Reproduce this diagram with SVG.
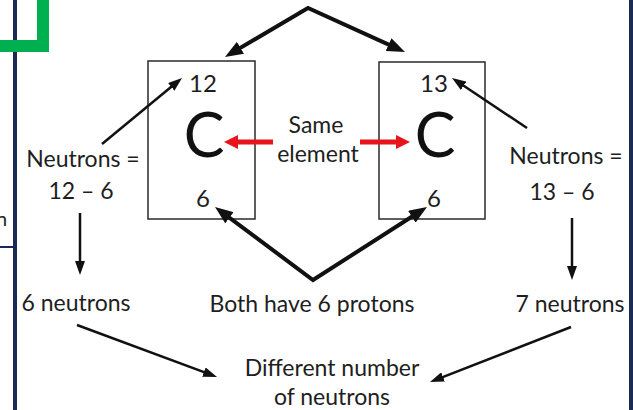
<svg xmlns="http://www.w3.org/2000/svg" width="633" height="410" viewBox="0 0 633 410">
  <style>
    .t { font-family: Lato, "Liberation Sans", sans-serif; fill: #1e1e1e; text-anchor: middle; }
    .lbl { font-size: 23px; }
    .num { font-size: 24px; }
    .big { font-size: 61px; fill: #111; }
    .box { fill: #fff; stroke: #2a2a2a; stroke-width: 1.5; }
    .c { fill: none; stroke: #111; }
    .thick { stroke-width: 4; stroke-linejoin: miter; }
    .thin { stroke-width: 2.5; }
    .red { fill: none; stroke: #e8141b; stroke-width: 5; }
  </style>
  <defs>
    <marker id="ah" markerUnits="userSpaceOnUse" markerWidth="18" markerHeight="14" refX="11" refY="7" orient="auto-start-reverse">
      <path d="M0,0 L18,7 L0,14 z" fill="#111"/>
    </marker>
    <marker id="as" markerUnits="userSpaceOnUse" markerWidth="14" markerHeight="10" refX="8" refY="5" orient="auto">
      <path d="M0,0 L14,5 L0,10 z" fill="#111"/>
    </marker>
    <marker id="ar" markerUnits="userSpaceOnUse" markerWidth="14" markerHeight="14" refX="8" refY="7" orient="auto">
      <path d="M0,0 L14,7 L0,14 z" fill="#e8141b"/>
    </marker>
  </defs>
  <rect width="633" height="410" fill="#fff"/>

  <g id="frame">
    <rect x="13" y="0" width="4" height="410" fill="#1b2a55"/>
    <rect x="629" y="0" width="4" height="410" fill="#1b2a55"/>
    <rect x="0" y="246" width="14" height="2" fill="#1b2a55"/>
    <text x="-4" y="226" font-family="Lato, 'Liberation Sans', sans-serif" font-size="20" fill="#262626">n</text>
    <path d="M0,46 H43 V0" fill="none" stroke="#00b050" stroke-width="12"/>
  </g>

  <g id="box12">
    <rect class="box" x="148" y="61" width="107" height="158"/>
    <text class="t num" x="203" y="92">12</text>
    <text class="t big" x="204" y="157">C</text>
    <text class="t num" x="203" y="207">6</text>
  </g>

  <g id="box13">
    <rect class="box" x="379" y="62" width="106" height="157"/>
    <text class="t num" x="434" y="92">13</text>
    <text class="t big" x="435" y="157">C</text>
    <text class="t num" x="434" y="207">6</text>
  </g>

  <g id="same-element">
    <text class="t lbl" x="316" y="133">Same</text>
    <text class="t lbl" x="318" y="162">element</text>
  </g>

  <g id="neutrons-left">
    <text class="t lbl" x="83" y="167">Neutrons =</text>
    <text class="t lbl" x="81" y="199">12 – 6</text>
  </g>

  <g id="neutrons-right">
    <text class="t lbl" x="566" y="164">Neutrons =</text>
    <text class="t lbl" x="562" y="200">13 – 6</text>
  </g>

  <g id="six-neutrons">
    <text class="t lbl" x="76" y="311">6 neutrons</text>
  </g>
  <g id="protons">
    <text class="t lbl" x="312" y="312">Both have 6 protons</text>
  </g>
  <g id="seven-neutrons">
    <text class="t lbl" x="570" y="312">7 neutrons</text>
  </g>
  <g id="different">
    <text class="t lbl" x="332" y="376">Different number</text>
    <text class="t lbl" x="332" y="405">of neutrons</text>
  </g>

  <g id="connectors">
    <path class="c thick" d="M231,53.4 L308,8 L398.6,49.1" marker-start="url(#ah)" marker-end="url(#ah)"/>
    <path class="c thick" d="M220.6,211.2 L313,280 L421.1,210.8" marker-start="url(#ah)" marker-end="url(#ah)"/>
    <path class="c thin" d="M102,144 L177.4,81.8" marker-end="url(#as)"/>
    <path class="c thin" d="M527,128 L457,81.3" marker-end="url(#as)"/>
    <path class="red" d="M273,142 L230,142" marker-end="url(#ar)"/>
    <path class="red" d="M360,142 L404,142" marker-end="url(#ar)"/>
    <path class="c thin" d="M80,213 L80,269" marker-end="url(#as)"/>
    <path class="c thin" d="M572,218 L572,274" marker-end="url(#as)"/>
    <path class="c thin" d="M77,325 L211.4,374.9" marker-end="url(#as)"/>
    <path class="c thin" d="M571,327 L435.6,379.8" marker-end="url(#as)"/>
  </g>
</svg>
